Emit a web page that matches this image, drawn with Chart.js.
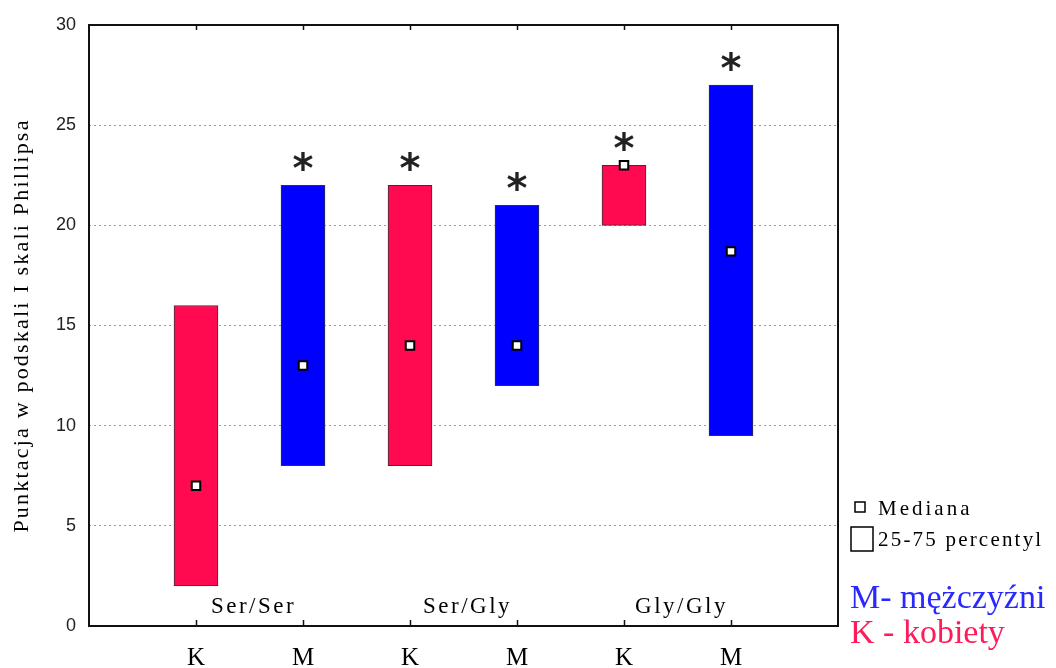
<!DOCTYPE html>
<html>
<head>
<meta charset="utf-8">
<script src="https://cdn.jsdelivr.net/npm/chart.js@4/dist/chart.umd.min.js"></script>
<style>
  html, body { margin: 0; padding: 0; background: #fff; }
  #wrap { width: 1056px; height: 668px; }
</style>
</head>
<body>
<div id="wrap"><canvas id="c" width="1056" height="668"></canvas></div>
<script>
// Box data per group (genotype x sex)
const sexLabels   = ['K', 'M', 'K', 'M', 'K', 'M'];
const genotypes   = ['Ser/Ser', 'Ser/Gly', 'Gly/Gly'];
const q25         = [2, 8, 8, 12, 20, 9.5];
const q75         = [16, 22, 22, 21, 23, 27];
const medians     = [7, 13, 14, 14, 23, 18.7];
const significant = [false, true, true, true, true, true];
const yTicks      = [0, 5, 10, 15, 20, 25, 30];
const yTitle      = 'Punktacja w podskali I skali Phillipsa';

const RED  = '#ff0a50';
const BLUE = '#0000ff';
const SERIF = '"Liberation Serif", "DejaVu Serif", serif';
const SANS  = '"Liberation Sans", Arial, sans-serif';

const xPos = sexLabels.map((_, i) => i + 1);
const fillFor = s => (s === 'K' ? RED : BLUE);

function drawSpaced(ctx, text, x, y, spacing) {
  if ('letterSpacing' in ctx) {
    ctx.letterSpacing = spacing + 'px';
    ctx.fillText(text, x, y);
    ctx.letterSpacing = '0px';
  } else {
    ctx.fillText(text, x, y);
  }
}

// Frame, inward tick marks, significance stars, genotype labels, axis title, legend
const decorations = {
  id: 'decorations',
  afterDatasetsDraw(chart) {
    const { ctx, chartArea: a, scales: { x, y } } = chart;
    ctx.save();

    // plot frame
    ctx.strokeStyle = '#111';
    ctx.lineWidth = 2;
    ctx.strokeRect(a.left, a.top, a.right - a.left, a.bottom - a.top);

    // inward tick marks at each group position
    ctx.lineWidth = 1.5;
    xPos.forEach(v => {
      const px = Math.round(x.getPixelForValue(v)) + 0.5;
      ctx.beginPath();
      ctx.moveTo(px, a.bottom); ctx.lineTo(px, a.bottom - 6);
      ctx.moveTo(px, a.top);    ctx.lineTo(px, a.top + 5);
      ctx.stroke();
    });

    // significance stars above the boxes
    ctx.fillStyle = '#222';
    ctx.font = 'bold 40px "DejaVu Sans", sans-serif';
    ctx.textAlign = 'center';
    ctx.textBaseline = 'alphabetic';
    const m = ctx.measureText('*');
    const mid = (m.actualBoundingBoxAscent - m.actualBoundingBoxDescent) / 2;
    significant.forEach((sig, i) => {
      if (!sig) return;
      const px = x.getPixelForValue(xPos[i]);
      const py = y.getPixelForValue(q75[i]) - 24;
      ctx.fillText('*', px, py + mid);
    });

    // genotype labels between each K/M pair
    ctx.fillStyle = '#000';
    ctx.font = '23px ' + SERIF;
    ctx.textBaseline = 'middle';
    genotypes.forEach((g, j) => {
      const px = (x.getPixelForValue(xPos[2 * j]) + x.getPixelForValue(xPos[2 * j + 1])) / 2 + 4;
      drawSpaced(ctx, g, px, a.bottom - 19, 2.5);
    });

    // y axis title
    ctx.save();
    ctx.translate(22, (a.top + a.bottom) / 2);
    ctx.rotate(-Math.PI / 2);
    ctx.font = '22px ' + SERIF;
    ctx.fillStyle = '#000';
    drawSpaced(ctx, yTitle, 0, 0, 2.2);
    ctx.restore();

    // legend
    const lx = a.right + 13;
    ctx.textAlign = 'left';
    ctx.textBaseline = 'middle';
    ctx.lineWidth = 1.5;
    ctx.strokeStyle = '#000';
    ctx.fillStyle = '#fff';
    ctx.fillRect(lx + 4, 502, 10, 10);
    ctx.strokeRect(lx + 4, 502, 10, 10);
    ctx.strokeRect(lx, 527, 22, 24);

    ctx.fillStyle = '#000';
    ctx.font = '21px ' + SERIF;
    drawSpaced(ctx, 'Mediana', lx + 27, 509, 3);
    drawSpaced(ctx, '25-75 percentyl', lx + 27, 540, 2.2);

    ctx.font = '34px ' + SERIF;
    ctx.fillStyle = '#2828ff';
    ctx.fillText('M- mężczyźni', lx - 1, 599);
    ctx.fillStyle = '#ff1a5a';
    ctx.fillText('K - kobiety', lx - 1, 634);

    ctx.restore();
  }
};

new Chart(document.getElementById('c'), {
  type: 'bar',
  data: {
    datasets: [
      {
        type: 'line',
        label: 'Mediana',
        data: xPos.map((v, i) => ({ x: v, y: medians[i] })),
        showLine: false,
        pointStyle: 'rect',
        pointRadius: 6,
        pointBackgroundColor: '#fff',
        pointBorderColor: '#000',
        pointBorderWidth: 2,
        order: 1
      },
      {
        label: '25-75 percentyl',
        data: xPos.map((v, i) => ({ x: v, y: [q25[i], q75[i]] })),
        backgroundColor: sexLabels.map(fillFor),
        borderColor: '#333',
        borderWidth: 1,
        borderSkipped: false,
        barThickness: 44,
        order: 2
      }
    ]
  },
  options: {
    responsive: false,
    animation: false,
    devicePixelRatio: 1,
    layout: { padding: { top: 25, right: 218, left: 0, bottom: 0 } },
    plugins: {
      legend: { display: false },
      tooltip: { enabled: false },
      title: { display: false }
    },
    scales: {
      x: {
        type: 'linear',
        min: 0,
        max: 7,
        offset: false,
        afterBuildTicks: s => { s.ticks = xPos.map(v => ({ value: v })); },
        afterFit: s => { s.height = 42; },
        grid: { display: false },
        border: { display: false },
        ticks: {
          autoSkip: false,
          maxRotation: 0,
          padding: 9,
          color: '#000',
          font: { family: SERIF, size: 25 },
          callback: v => sexLabels[v - 1]
        }
      },
      y: {
        min: 0,
        max: 30,
        afterBuildTicks: s => { s.ticks = yTicks.map(v => ({ value: v })); },
        afterFit: s => { s.width = 89; },
        grid: {
          color: c => (c.tick && (c.tick.value === 0 || c.tick.value === 30) ? 'rgba(0,0,0,0)' : '#9a9a9a'),
          lineWidth: 1,
          drawTicks: false
        },
        border: { display: false, dash: [2, 3] },
        ticks: {
          padding: 13,
          color: '#222',
          font: { family: SANS, size: 18 }
        }
      }
    }
  },
  plugins: [decorations]
});
</script>
</body>
</html>
